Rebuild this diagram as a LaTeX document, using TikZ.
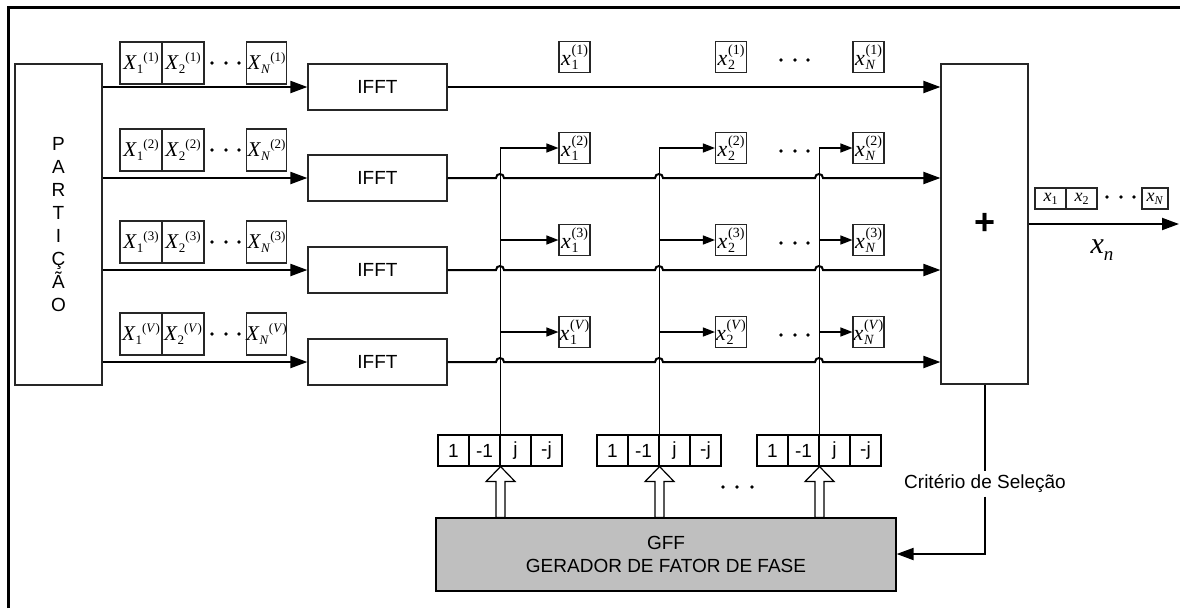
\documentclass[tikz,border=0pt]{standalone}
\usepackage{fontspec}
\setmainfont{Liberation Sans}
\newfontfamily\tms{Liberation Serif}
\newcommand\fs[1]{\fontsize{#1}{#1}\selectfont}
\newcommand\BigX[3]{{\tms\fs{21}\textit{#1}\raisebox{-4pt}{\fs{13}#2}\raisebox{8pt}{\fs{13}#3}}}
\newcommand\SmX[3]{{\tms\fs{22}\textit{#1}\kern0.8pt\raisebox{-4pt}{\fs{14}\shortstack[l]{#3\\#2}}}}
\newcommand\OutX[2]{{\tms\fs{18}\textit{#1}\raisebox{-3pt}{\fs{12}#2}}}
\usetikzlibrary{arrows.meta,calc}
\begin{document}
\begin{tikzpicture}[x=1pt,y=-1pt,
  font=\fontsize{19}{23}\selectfont,
  blk/.style={draw=black!85,line width=1.2pt,inner sep=0pt},
  bigx/.style={draw=black!85,line width=1.1pt,minimum width=42pt,minimum height=42pt,inner sep=0pt},
  smx/.style={draw=black!85,line width=1.1pt,minimum width=31pt,minimum height=31pt,inner sep=0pt},
  cell/.style={draw,line width=1.1pt,minimum width=31pt,minimum height=31pt,inner sep=0pt},
  outx/.style={draw=black!85,line width=1.1pt,minimum width=31pt,minimum height=21pt,inner sep=0pt},
  arrB/.style={-{Triangle[length=17pt,width=12pt]},line width=2pt},
  arrS/.style={-{Triangle[length=12pt,width=9pt]},line width=1.3pt},
  hollow/.style={draw,fill=white,line width=1.2pt,line join=miter}
]
\useasboundingbox (0,0) rectangle (1180,608);
% outer frame
\draw[line width=3pt] (8,608) -- (8,7) -- (1180,7);

% partition and sum blocks
\node[blk,minimum width=87pt,minimum height=321pt,align=center,font=\fontsize{19}{23}\selectfont] (part) at (58.5,224.5)
  {P\\A\\R\\T\\I\\Ç\\Ã\\O};
\node[blk,minimum width=87pt,minimum height=320pt,font=\fontsize{36}{36}\selectfont\bfseries] (sum) at (984.5,224) {+};

% rows
\foreach \r/\y/\s/\o in {1/87/1/24,2/178/2/28,3/270/3/28,4/362/\textit{V}/28}{
  \node[blk,minimum width=139pt,minimum height=46pt] (ifft\r) at (377.5,\y) {IFFT};
  \draw[arrB] (ifft\r.west -| part.east) -- (ifft\r.west);
  \node[bigx] (Xa\r) at (141,\y-\o) {\BigX{X}{1}{(\s)}};
  \node[bigx] (Xb\r) at (183,\y-\o) {\BigX{X}{2}{(\s)}};
  \node[bigx,minimum width=40pt] (Xn\r) at (266.5,\y-\o) {\BigX{X}{\textit{N}}{(\s)}};
  \foreach \d in {212,226,239} \fill (\d,\y-\o) circle (1.8);
  \node[smx] (s\r1) at (574.5,\y-30) {\SmX{x}{1}{(\s)}};
  \node[smx] (s\r2) at (731,\y-30) {\SmX{x}{2}{(\s)}};
  \node[smx] (s\r3) at (868.5,\y-30) {\SmX{x}{\textit{N}}{(\s)}};
  \foreach \d in {781,795,808} \fill (\d,\y-27) circle (1.8);
}
\draw[arrB] (ifft1.east) -- (ifft1.east -| sum.west);
\foreach \r/\y in {2/178,3/270,4/362}{
  \draw[arrB] (ifft\r.east) -- (496,\y)
    .. controls (496,\y-5.3) and (504,\y-5.3) .. (504,\y) -- (655,\y)
    .. controls (655,\y-5.3) and (663,\y-5.3) .. (663,\y) -- (815,\y)
    .. controls (815,\y-5.3) and (823,\y-5.3) .. (823,\y)
    -- (ifft\r.east -| sum.west);
}

% phase factor groups
\foreach \g/\xs in {1/438,2/597,3/757}{
  \node[cell] (p\g a) at (\xs+15.5,450.5) {1};
  \node[cell] (p\g b) at (\xs+46.5,450.5) {-1};
  \node[cell] (p\g c) at (\xs+77.5,450.5) {j};
  \node[cell] (p\g d) at (\xs+108.5,450.5) {-j};
}
\foreach \d in {723,737,752} \fill (\d,487) circle (1.8);

% GFF block
\node[draw,line width=1.2pt,fill=black!25,minimum width=460pt,minimum height=73pt,align=center,inner sep=0pt] (gff) at (666,554.5)
  {GFF\\GERADOR DE FATOR DE FASE};

% hollow arrows
\foreach \g in {1,2,3}{
  \draw[hollow] (p\g b.south east) -- ++(14.5,15) -- ++(-10,0) -- (gff.north -| {$(p\g b.south east)+(4.5,0)$})
    -- (gff.north -| {$(p\g b.south east)+(-4.5,0)$}) -- ($(p\g b.south east)+(-4.5,15)$) -- ++(-10,0) -- cycle;
}

% vertical distribution lines and branches
\foreach \g/\c in {1/1,2/2,3/3}{
  \draw[arrS] (p\g b.north east) -- (p\g b.north east |- s2\c.west) -- (s2\c.west);
  \draw[arrS] (p\g b.north east |- s3\c.west) -- (s3\c.west);
  \draw[arrS] (p\g b.north east |- s4\c.west) -- (s4\c.west);
}

% output
\coordinate (oend) at (1179,224);
\draw[arrB] (sum.east |- oend) -- (oend);
\node[outx] (o1) at (1050.5,198.5) {\OutX{x}{1}};
\node[outx] (o2) at (1081.5,198.5) {\OutX{x}{2}};
\node[outx,minimum width=26pt] (oN) at (1155,198.5) {\OutX{x}{\textit{N}}};
\foreach \d in {1107,1121,1134} \fill (\d,197) circle (1.8);
\node (xn) at (1102,250) {{\tms\fs{30}\textit{x}\raisebox{-7pt}{\fs{19}\textit{n}}}};

% selection criterion feedback
\node (crit) at (985,484) {Critério de Seleção};
\coordinate (cy) at (0,554);
\draw[line width=2pt] (sum.south) -- (sum.south |- crit.north);
\draw[arrB] (sum.south |- crit.south) -- (sum.south |- cy) -- (gff.east |- cy);
\end{tikzpicture}
\end{document}
